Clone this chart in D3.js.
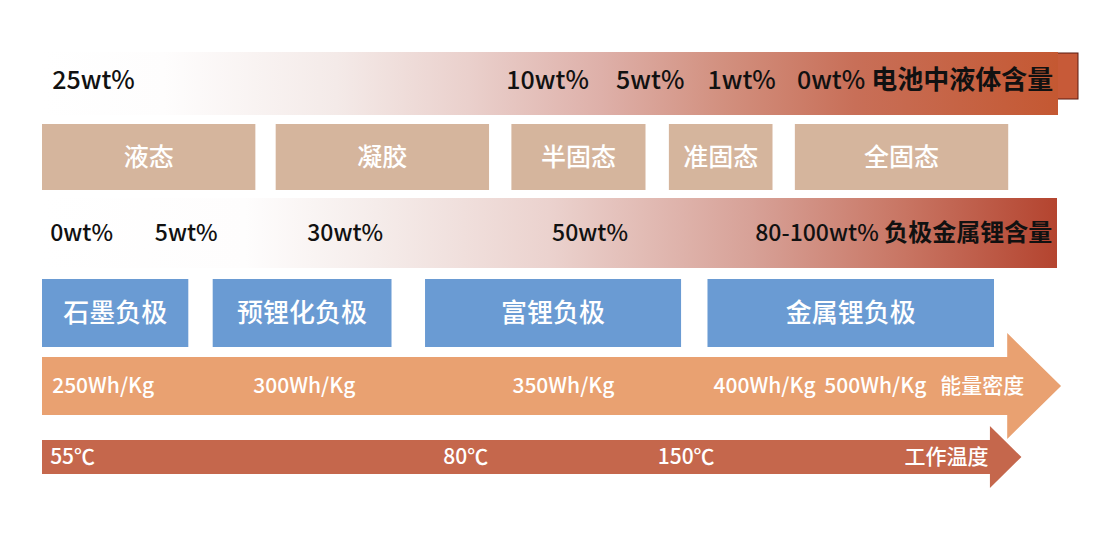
<!DOCTYPE html>
<html>
<head>
<meta charset="utf-8">
<script src="https://cdn.jsdelivr.net/npm/d3@7"></script>
<style>
  html, body { margin: 0; padding: 0; background: #fff; }
  svg { display: block; }
  text { font-family: "Noto Sans CJK SC", "Noto Sans", sans-serif; }
</style>
</head>
<body>
<svg id="chart" width="1104" height="546"></svg>
<script>
// track units: 0 = left edge of the bands, 1000 = right edge
var liquidLabels = ['25wt%', '10wt%', '5wt%', '1wt%', '0wt% 电池中液体含量'];
var liquidPos = [10, 457, 565, 655, 743];

var stateNames = ['液态', '凝胶', '半固态', '准固态', '全固态'];
var stateSpans = [[0, 210], [230, 440], [462, 594], [617, 719], [741, 951]];

var lithiumLabels = ['0wt%', '5wt%', '30wt%', '50wt%', '80-100wt% 负极金属锂含量'];
var lithiumPos = [8, 111, 261, 502, 702];

var anodeNames = ['石墨负极', '预锂化负极', '富锂负极', '金属锂负极'];
var anodeSpans = [[0, 144], [168, 344], [377, 629], [655, 937]];

var energyLabels = ['250Wh/Kg', '300Wh/Kg', '350Wh/Kg', '400Wh/Kg', '500Wh/Kg', '能量密度'];
var energyPos = [10, 208, 463, 661, 770, 884];

var tempLabels = ['55℃', '80℃', '150℃', '工作温度'];
var tempPos = [8, 395, 606, 849];

var svg = d3.select('#chart');
var x = d3.scaleLinear().domain([0, 1000]).range([42, 1058]);
var defs = svg.append('defs');

function gradient(id, stops){
    var g = defs.append('linearGradient').attr('id', id)
        .attr('x1', '0%').attr('x2', '100%').attr('y1', '0%').attr('y2', '0%');
    g.selectAll('stop').data(stops).enter().append('stop')
        .attr('offset', function(d){ return d[0]; })
        .attr('stop-color', function(d){ return d[1]; });
}
gradient('gLiquid', [[0, '#ffffff'], [0.12, '#fefdfd'], [0.29, '#f4eae8'], [0.42, '#eaD0cc'],
                     [0.55, '#deb0a9'], [0.67, '#d2907f'], [0.8, '#c86f58'], [1, '#c45832']]);
gradient('gLithium', [[0, '#ffffff'], [0.2, '#fefdfd'], [0.33, '#f5ecea'], [0.5, '#ebd2ce'],
                      [0.7, '#d7a197'], [0.85, '#c87563'], [1, '#b4442f']]);

// labels: number part regular, trailing chinese title bold
function labels(data, pos, y, size, fill, weight){
    var t = svg.append('g').selectAll('text').data(data).enter().append('text')
        .attr('x', function(d, i){ return x(pos[i]); })
        .attr('y', y).attr('dy', '0.35em')
        .attr('font-size', size).attr('fill', fill)
        .attr('font-weight', weight);
    t.each(function(d){
        var parts = d.split(' ');
        var sel = d3.select(this);
        sel.append('tspan').text(parts[0]);
        if(parts.length > 1)
        {
            sel.append('tspan').attr('font-weight', 'bold').attr('font-size', size + 1)
                .text(' ' + parts[1]);
        }
    });
}

// row 1: liquid content band with end tab
svg.append('rect').attr('x', x(1000) - 2).attr('y', 53).attr('width', 22).attr('height', 46)
    .attr('fill', '#c75a38').attr('stroke', '#5a1a10').attr('stroke-width', 1);
svg.append('rect').attr('x', x(0)).attr('y', 52).attr('width', x(1000) - x(0)).attr('height', 63)
    .attr('fill', 'url(#gLiquid)');
labels(liquidLabels, liquidPos, 80, 25, '#111', 500);

function boxes(names, spans, y0, h, fill, fontSize){
    var g = svg.append('g');
    var cell = g.selectAll('g').data(names).enter().append('g');
    cell.append('rect')
        .attr('x', function(d, i){ return x(spans[i][0]); })
        .attr('width', function(d, i){ return x(spans[i][1]) - x(spans[i][0]); })
        .attr('y', y0).attr('height', h)
        .attr('fill', fill);
    cell.append('text')
        .attr('x', function(d, i){ return (x(spans[i][0]) + x(spans[i][1])) / 2; })
        .attr('y', y0 + h / 2).attr('dy', '0.35em')
        .attr('text-anchor', 'middle')
        .attr('font-size', fontSize).attr('fill', '#fff')
        .attr('font-weight', 500)
        .text(function(d){ return d; });
}

// row 2: electrolyte states
boxes(stateNames, stateSpans, 124, 66, '#d5b59d', 25);

// row 3: lithium metal content band
svg.append('rect').attr('x', x(0)).attr('y', 198).attr('width', x(1000) - x(0) - 1).attr('height', 70)
    .attr('fill', 'url(#gLithium)');
labels(lithiumLabels, lithiumPos, 233, 23, '#111', 500);

// row 4: anode types
boxes(anodeNames, anodeSpans, 279, 68, '#6a9bd3', 26);

function arrow(top, bottom, headTop, headBottom, headBase, tip, fill){
    var mid = (headTop + headBottom) / 2;
    var pts = [[x(0), top], [x(headBase), top], [x(headBase), headTop], [x(tip), mid],
               [x(headBase), headBottom], [x(headBase), bottom], [x(0), bottom]];
    svg.append('path').attr('d', d3.line()(pts) + 'Z').attr('fill', fill);
}

// row 5: energy density arrow
arrow(357, 415, 333, 439, 950, 1003, '#e9a171');
labels(energyLabels, energyPos, 386, 21, '#fff', 500);

// row 6: working temperature arrow
arrow(440, 474, 426, 488, 933, 964, '#c5674c');
labels(tempLabels, tempPos, 457, 21, '#fff', 500);
</script>
</body>
</html>
